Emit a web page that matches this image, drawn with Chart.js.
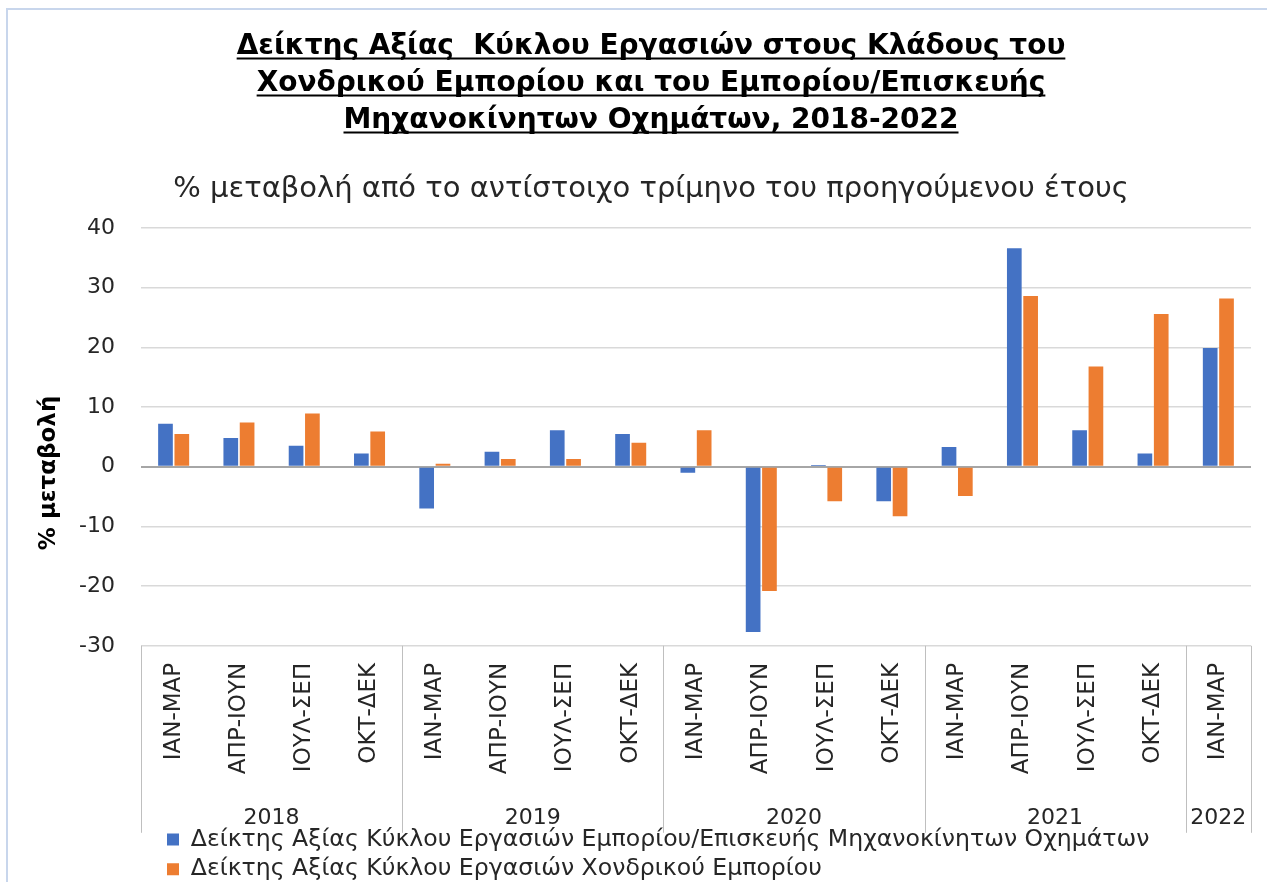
<!DOCTYPE html>
<html><head><meta charset="utf-8">
<script src="https://cdn.jsdelivr.net/npm/chart.js@4.4.1/dist/chart.umd.min.js"></script>
<style>html,body{margin:0;padding:0;background:#fff}#wrap{width:1267px;height:882px;position:relative}</style>
</head><body><div id="wrap"><canvas id="c"></canvas></div>
<script>
const titleLines = ['Δείκτης Αξίας  Κύκλου Εργασιών στους Κλάδους του', 'Χονδρικού Εμπορίου και του Εμπορίου/Επισκευής', 'Μηχανοκίνητων Οχημάτων, 2018-2022'];
const subtitleText = '% μεταβολή από το αντίστοιχο τρίμηνο του προηγούμενου έτους';
const yAxisTitle = '% μεταβολή';
const quarters = ['ΙΑΝ-ΜΑΡ','ΑΠΡ-ΙΟΥΝ','ΙΟΥΛ-ΣΕΠ','ΟΚΤ-ΔΕΚ','ΙΑΝ-ΜΑΡ','ΑΠΡ-ΙΟΥΝ','ΙΟΥΛ-ΣΕΠ','ΟΚΤ-ΔΕΚ','ΙΑΝ-ΜΑΡ','ΑΠΡ-ΙΟΥΝ','ΙΟΥΛ-ΣΕΠ','ΟΚΤ-ΔΕΚ','ΙΑΝ-ΜΑΡ','ΑΠΡ-ΙΟΥΝ','ΙΟΥΛ-ΣΕΠ','ΟΚΤ-ΔΕΚ','ΙΑΝ-ΜΑΡ'];
const years = ['2018','2019','2020','2021','2022'];
const quartersPerYear = [4,4,4,4,1];
const seriesNames = ['Δείκτης Αξίας Κύκλου Εργασιών Εμπορίου/Επισκευής Μηχανοκίνητων Οχημάτων', 'Δείκτης Αξίας Κύκλου Εργασιών Χονδρικού Εμπορίου'];
const motorTrade = [7.2,4.8,3.5,2.2,-7.0,2.5,6.1,5.5,-1.0,-27.7,0.3,-5.8,3.3,36.6,6.1,2.2,19.9];
const wholesale = [5.5,7.4,8.9,5.9,0.5,1.3,1.3,4.0,6.1,-20.8,-5.8,-8.3,-4.9,28.6,16.8,25.6,28.2];
const yTickValues = [-30,-20,-10,0,10,20,30,40];

const FONT = 'DejaVu Sans';

const framePlugin = {
  id: 'frame',
  beforeDraw(chart) {
    const ctx = chart.ctx;
    ctx.save();
    ctx.fillStyle = '#fff';
    ctx.fillRect(0, 0, chart.width, chart.height);
    ctx.strokeStyle = '#c8d6ec';
    ctx.lineWidth = 2;
    ctx.beginPath();
    ctx.moveTo(7, chart.height); ctx.lineTo(7, 9); ctx.lineTo(chart.width, 9);
    ctx.stroke();
    ctx.restore();
  }
};

const legendShift = {
  id: 'legendShift',
  afterLayout(chart) {
    if (chart.legend) chart.legend.left = chart.chartArea.left + 20;
  }
};

const underlinePlugin = {
  id: 'underline',
  afterDraw(chart) {
    const tb = chart.titleBlock; if (!tb) return;
    const opts = chart.options.plugins.title;
    const font = Chart.helpers.toFont(opts.font);
    const pad = Chart.helpers.toPadding(opts.padding);
    const ctx = chart.ctx;
    ctx.save();
    ctx.font = font.string;
    ctx.strokeStyle = '#000';
    ctx.lineWidth = 2;
    const cx = (tb.left + tb.right) / 2;
    titleLines.forEach((t, i) => {
      const w = ctx.measureText(t).width;
      const y = tb.top + pad.top + font.lineHeight * (i + 0.5) + 12;
      ctx.beginPath(); ctx.moveTo(cx - w / 2, y); ctx.lineTo(cx + w / 2, y); ctx.stroke();
    });
    ctx.restore();
  }
};

const yearGroupPlugin = {
  id: 'yearGroups',
  afterDraw(chart) {
    const x = chart.scales.x, ctx = chart.ctx;
    const top = chart.chartArea.bottom, bottom = top + 187;
    const bounds = [0];
    let k = 0;
    quartersPerYear.forEach(n => { k += n; bounds.push(k); });
    ctx.save();
    ctx.strokeStyle = '#bfbfbf';
    ctx.lineWidth = 1;
    bounds.forEach(b => {
      const px = Math.round(x.getPixelForValue(b - 0.5)) + 0.5;
      ctx.beginPath(); ctx.moveTo(px, top); ctx.lineTo(px, bottom); ctx.stroke();
    });
    ctx.fillStyle = '#262626';
    ctx.font = '22px "' + FONT + '"';
    ctx.textAlign = 'center';
    ctx.textBaseline = 'middle';
    years.forEach((yr, i) => {
      const cx = (x.getPixelForValue(bounds[i] - 0.5) + x.getPixelForValue(bounds[i + 1] - 0.5)) / 2;
      ctx.fillText(yr, cx, top + 172);
    });
    ctx.restore();
  }
};

new Chart(document.getElementById('c'), {
  type: 'bar',
  data: {
    labels: quarters,
    datasets: [
      { label: seriesNames[0], data: motorTrade, backgroundColor: '#4472C4', categoryPercentage: 0.5, barPercentage: 0.9 },
      { label: seriesNames[1], data: wholesale, backgroundColor: '#ED7D31', categoryPercentage: 0.5, barPercentage: 0.9 }
    ]
  },
  options: {
    responsive: true,
    maintainAspectRatio: false,
    animation: false,
    layout: { padding: { left: 51, right: 16, top: 0, bottom: -9 } },
    plugins: {
      title: {
        display: true,
        text: titleLines,
        color: '#000',
        font: { family: FONT, size: 28, weight: 'bold', lineHeight: 37 / 28 },
        padding: { top: 28, bottom: 0 }
      },
      subtitle: {
        display: true,
        text: subtitleText,
        color: '#262626',
        font: { family: FONT, size: 29, lineHeight: 1.2 },
        padding: { top: 32.6, bottom: 21.6 }
      },
      legend: {
        position: 'bottom',
        align: 'start',
        labels: {
          boxWidth: 12, boxHeight: 12, padding: 6,
          color: '#262626',
          font: { family: FONT, size: 23.6 }
        }
      },
      tooltip: { enabled: false }
    },
    scales: {
      x: {
        grid: { display: false, drawTicks: false },
        border: { display: false },
        ticks: {
          autoSkip: false, minRotation: 90, maxRotation: 90, padding: 17,
          color: '#262626', font: { family: FONT, size: 23 }
        },
        afterFit(scale) { scale.height = 176; }
      },
      y: {
        min: yTickValues[0],
        max: yTickValues[yTickValues.length - 1],
        afterBuildTicks(scale) { scale.ticks = yTickValues.map(v => ({ value: v })); },
        grid: {
          drawTicks: false,
          color: ctx => (ctx.tick && ctx.tick.value === 0) ? '#a6a6a6' : '#d9d9d9',
          lineWidth: ctx => (ctx.tick && ctx.tick.value === 0) ? 2 : 1.5
        },
        border: { display: false },
        ticks: { padding: 26, color: '#262626', font: { family: FONT, size: 22 } },
        title: {
          display: true,
          text: yAxisTitle + '         ',
          color: '#000',
          font: { family: FONT, size: 23, weight: 'bold', lineHeight: 1.2 },
          padding: { top: -15.8, bottom: 0 }
        },
        afterFit(scale) { scale.width = 90; }
      }
    }
  },
  plugins: [framePlugin, legendShift, underlinePlugin, yearGroupPlugin]
});
</script>
</body></html>
